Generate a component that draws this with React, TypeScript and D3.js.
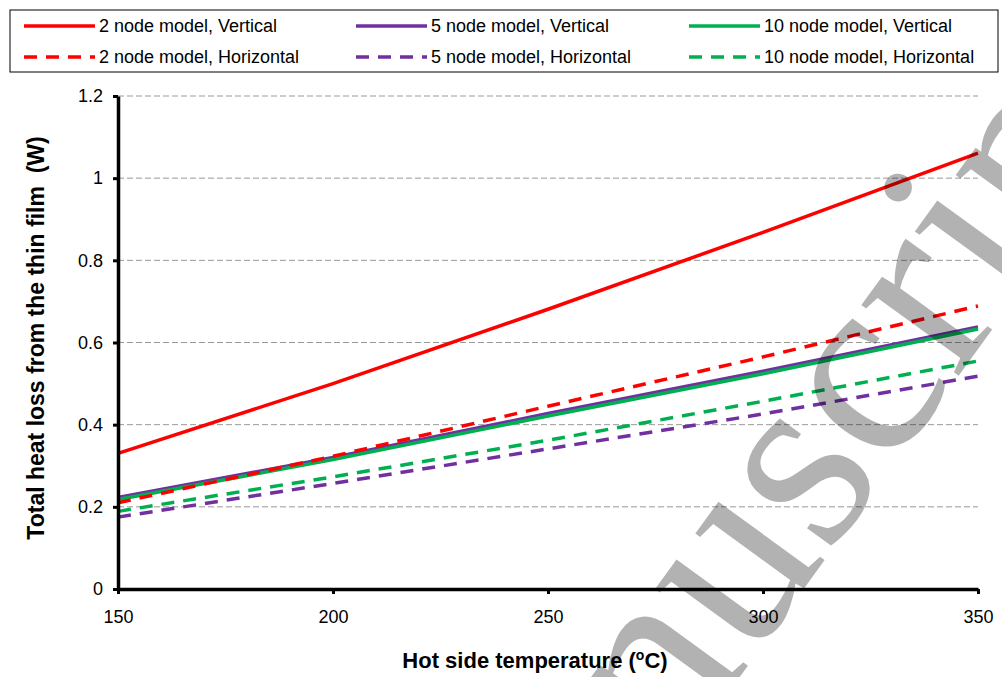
import React, { useEffect, useRef } from "react";
import * as d3 from "d3";

// hot side temperature (C)
const temps = [150, 200, 250, 300, 350];

// total heat loss (W)
const twoNodeVertical = [0.33, 0.5, 0.681, 0.868, 1.061];
const fiveNodeVertical = [0.223, 0.32, 0.427, 0.53, 0.638];
const tenNodeVertical = [0.218, 0.315, 0.421, 0.524, 0.633];
const twoNodeHorizontal = [0.21, 0.323, 0.445, 0.565, 0.689];
const fiveNodeHorizontal = [0.175, 0.257, 0.341, 0.426, 0.518];
const tenNodeHorizontal = [0.189, 0.273, 0.362, 0.457, 0.555];

const seriesNames = [
  "2 node model, Vertical",
  "5 node model, Vertical",
  "10 node model, Vertical",
  "2 node model, Horizontal",
  "5 node model, Horizontal",
  "10 node model, Horizontal",
];

const xTicks = [150, 200, 250, 300, 350];
const yTicks = [0, 0.2, 0.4, 0.6, 0.8, 1, 1.2];

export default function App() {
  const svgRef = useRef(null);

  useEffect(() => {
    const width = 1002;
    const height = 677;
    const margin = { left: 118, right: 24, top: 96, bottom: 88 };
    const font = "'Liberation Sans', Arial, sans-serif";

    const series = [
      { name: seriesNames[0], values: twoNodeVertical, color: "#ff0000", dashed: false },
      { name: seriesNames[1], values: fiveNodeVertical, color: "#7030a0", dashed: false },
      { name: seriesNames[2], values: tenNodeVertical, color: "#00b050", dashed: false },
      { name: seriesNames[3], values: twoNodeHorizontal, color: "#ff0000", dashed: true },
      { name: seriesNames[4], values: fiveNodeHorizontal, color: "#7030a0", dashed: true },
      { name: seriesNames[5], values: tenNodeHorizontal, color: "#00b050", dashed: true },
    ];

    const svg = d3.select(svgRef.current);
    svg.selectAll("*").remove();
    svg.attr("width", width).attr("height", height).style("background", "#fff");

    const x = d3
      .scaleLinear()
      .domain([150, 350])
      .range([margin.left, width - margin.right]);
    const y = d3
      .scaleLinear()
      .domain([0, 1.2])
      .range([height - margin.bottom, margin.top]);

    // gridlines
    svg
      .append("g")
      .selectAll("line")
      .data(yTicks.filter((d) => d > 0))
      .join("line")
      .attr("x1", x(150))
      .attr("x2", x(350))
      .attr("y1", (d) => y(d))
      .attr("y2", (d) => y(d))
      .attr("stroke", "#999")
      .attr("stroke-width", 1)
      .attr("stroke-dasharray", "6,3");

    // series lines
    const line = d3
      .line()
      .x((d, i) => x(temps[i]))
      .y((d) => y(d));

    svg
      .append("g")
      .selectAll("path")
      .data(series)
      .join("path")
      .attr("d", (s) => line(s.values))
      .attr("fill", "none")
      .attr("stroke", (s) => s.color)
      .attr("stroke-width", 3.5)
      .attr("stroke-dasharray", (s) => (s.dashed ? "13,9" : null));

    // axes
    const yAxis = svg
      .append("g")
      .attr("transform", `translate(${x(150)},0)`)
      .call(
        d3
          .axisLeft(y)
          .tickValues(yTicks)
          .tickSize(5)
          .tickSizeOuter(0)
          .tickPadding(10)
          .tickFormat(d3.format("~g"))
      );
    const xAxis = svg
      .append("g")
      .attr("transform", `translate(0,${y(0)})`)
      .call(
        d3
          .axisBottom(x)
          .tickValues(xTicks)
          .tickSize(5)
          .tickSizeOuter(0)
          .tickPadding(16)
      );

    [yAxis, xAxis].forEach((g) => {
      g.select(".domain").attr("stroke", "#000").attr("stroke-width", 3.5);
      g.selectAll(".tick line").attr("stroke", "#000").attr("stroke-width", 3);
      g.selectAll(".tick text")
        .attr("fill", "#000")
        .style("font-family", font)
        .style("font-size", "18px");
    });

    // axis titles
    svg
      .append("text")
      .attr("transform", "translate(44,338) rotate(-90)")
      .attr("text-anchor", "middle")
      .style("font-family", font)
      .style("font-size", "23px")
      .style("font-weight", "bold")
      .style("white-space", "pre")
      .text("Total heat loss from the thin film  (W)");

    const xTitle = svg
      .append("text")
      .attr("x", 535)
      .attr("y", 668)
      .attr("text-anchor", "middle")
      .style("font-family", font)
      .style("font-size", "22px")
      .style("font-weight", "bold");
    xTitle.append("tspan").text("Hot side temperature (");
    xTitle
      .append("tspan")
      .attr("baseline-shift", "super")
      .style("font-size", "14px")
      .text("o");
    xTitle.append("tspan").text("C)");

    // legend
    const legend = svg.append("g");
    legend
      .append("rect")
      .attr("x", 10)
      .attr("y", 10)
      .attr("width", 988)
      .attr("height", 62)
      .attr("fill", "#fff")
      .attr("stroke", "#000")
      .attr("stroke-width", 1);

    const colX = [24, 356, 689];
    const rowY = [26, 57];
    const items = legend
      .selectAll("g.item")
      .data(series)
      .join("g")
      .attr("class", "item")
      .attr(
        "transform",
        (s, i) => `translate(${colX[i % 3]},${rowY[Math.floor(i / 3)]})`
      );
    items
      .append("line")
      .attr("x1", 0)
      .attr("x2", 71)
      .attr("stroke", (s) => s.color)
      .attr("stroke-width", 3.5)
      .attr("stroke-dasharray", (s) => (s.dashed ? "13,9" : null));
    items
      .append("text")
      .attr("x", 75)
      .attr("dominant-baseline", "central")
      .style("font-family", font)
      .style("font-size", "18px")
      .text((s) => s.name);

    // watermark
    svg
      .append("text")
      .attr("transform", "translate(468,1051) rotate(-54)")
      .style("font-family", "'Liberation Serif', 'DejaVu Serif', serif")
      .style("font-size", "262px")
      .attr("fill", "#000")
      .attr("fill-opacity", 0.3)
      .text("Manuscript");
  }, []);

  return (
    <div>
      <svg
        ref={svgRef}
        style={{ position: "absolute", left: 0, top: 0, display: "block" }}
      ></svg>
    </div>
  );
}
